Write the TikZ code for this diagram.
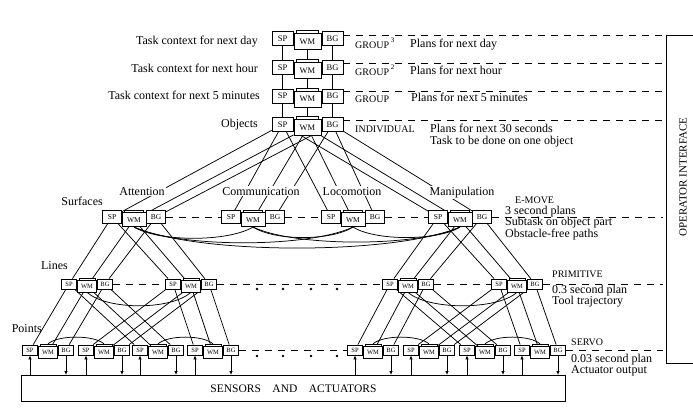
\documentclass[tikz,border=0pt]{standalone}
\usepackage{fontspec}
\setmainfont{Liberation Serif}
\usetikzlibrary{arrows.meta,backgrounds,calc}

\tikzset{
  ubox/.style={draw, fill=white, inner sep=0pt, line width=0.75pt},
  conn/.style={line width=0.75pt},
  lvl/.style={dash pattern=on 7pt off 6pt, line width=0.9pt},
  lbl/.style={font=\fontsize{12}{12}\selectfont, inner sep=0pt},
  capslbl/.style={font=\fontsize{10}{11}\selectfont, inner sep=0pt},
  tag/.style={font=\fontsize{12}{12}\selectfont, fill=white, inner sep=1pt},
  arr/.style={-{Latex[length=4pt,width=3.5pt]}, line width=0.75pt},
}

\newcommand\rcsunit[5]{%
  \node[ubox, minimum width={21pt*#4}, minimum height={14pt*#4}, font=\fontsize{#5}{#5}\selectfont] (#1sp) at ({#2-25*#4},#3) {SP};
  \node[ubox, minimum width={21pt*#4}, minimum height={14pt*#4}, font=\fontsize{#5}{#5}\selectfont] (#1bg) at ({#2+25*#4},#3) {BG};
  \node[ubox, minimum width={22pt*#4}, minimum height={10pt*#4}] (#1tab) at (#2,{#3-3*#4}) {};
  \node[ubox, minimum width={27pt*#4}, minimum height={16pt*#4}, font=\fontsize{#5}{#5}\selectfont] (#1wm) at (#2,{#3+3*#4}) {WM};
}

\begin{document}
\begin{tikzpicture}[x=1pt, y=-1pt]
\useasboundingbox (0,0) rectangle (693,409);

% ---------- units ----------
\rcsunit{u1}{307.5}{38.5}{1}{8.5}
\rcsunit{u2}{307.5}{67.5}{1}{8.5}
\rcsunit{u3}{307.5}{96}{1}{8.5}
\rcsunit{u4}{307.5}{124.5}{1}{8.5}

\rcsunit{att}{134}{217}{0.88}{7.5}
\rcsunit{com}{253}{217}{0.88}{7.5}
\rcsunit{loc}{353}{217}{0.88}{7.5}
\rcsunit{man}{460}{217}{0.88}{7.5}

\rcsunit{la}{87}{284}{0.72}{6.5}
\rcsunit{lb}{191}{284}{0.72}{6.5}
\rcsunit{lc}{408}{284}{0.72}{6.5}
\rcsunit{ld}{517}{284}{0.72}{6.5}

\rcsunit{sa}{48}{350}{0.72}{6.5}
\rcsunit{sb}{104}{350}{0.72}{6.5}
\rcsunit{sc}{158}{350}{0.72}{6.5}
\rcsunit{sd}{213}{350}{0.72}{6.5}
\rcsunit{se}{373}{350}{0.72}{6.5}
\rcsunit{sf}{429}{350}{0.72}{6.5}
\rcsunit{sg}{485}{350}{0.72}{6.5}
\rcsunit{sh}{540}{350}{0.72}{6.5}

% sensors box
\node[draw, line width=0.9pt, minimum width=544pt, minimum height=26pt, inner sep=0pt,
      anchor=north west, font=\fontsize{11.5}{12}\selectfont] (sens) at (21,375)
      {SENSORS\quad AND\quad ACTUATORS};

% right-hand level end points
\coordinate (r1) at (663,35);
\coordinate (r2) at (663,63);
\coordinate (r3) at (663,91);
\coordinate (r4) at (663,120);
\coordinate (r5) at (663,217);
\coordinate (r6) at (663,284);
\coordinate (r7) at (663,350);

\begin{scope}[on background layer]
  % hierarchy connectors
  \foreach \pa/\chd in {u1/u2,u2/u3,u3/u4,u4/att,u4/com,u4/loc,u4/man,
                        att/la,att/lb,man/lc,man/ld,
                        la/sa,la/sc,lb/sb,lb/sd,lc/se,lc/sg,ld/sf,ld/sh}
    \foreach \kk in {sp,wm,bg}
      \draw[conn] (\pa\kk) -- (\chd\kk);

  % world-model links at E-MOVE level
  \draw[conn] (attwm.south) .. controls +(25,15) and +(-25,15) .. (comwm.south);
  \draw[conn] (attwm.south) .. controls +(45,21) and +(-45,21) .. (locwm.south);
  \draw[conn] (attwm.south) .. controls +(65,28) and +(-65,28) .. (manwm.south);
  \draw[conn] (comwm.south) .. controls +(22,14) and +(-22,14) .. (locwm.south);
  \draw[conn] (comwm.south) .. controls +(42,20) and +(-42,20) .. (manwm.south);
  \draw[conn] (locwm.south) .. controls +(22,14) and +(-22,14) .. (manwm.south);

  % primitive level links
  \draw[conn] (lawm.south) .. controls +(20,18) and +(-20,18) .. (lbwm.south);
  \draw[conn] (lcwm.south) .. controls +(20,18) and +(-20,18) .. (ldwm.south);

  % servo level links
  \foreach \aa/\bb in {sa/sb,sc/sd,se/sf,sg/sh}
    \draw[conn] (\aa tab.north) .. controls +(10,-9) and +(-10,-9) .. (\bb tab.north);

  % level separators
  \draw[lvl] (u1bg.east |- r1) -- (r1);
  \draw[lvl] (u2bg.east |- r2) -- (r2);
  \draw[lvl] (u3bg.east |- r3) -- (r3);
  \draw[lvl] (u4bg.east |- r4) -- (r4);
  \draw[lvl] (attbg) -- (comsp);
  \draw[lvl] (combg) -- (locsp);
  \draw[lvl] (locbg) -- (mansp);
  \draw[lvl] (manbg.east) -- (r5);
  \draw[lvl] (labg) -- (lbsp);
  \draw[lvl] (lbbg) -- (lcsp);
  \draw[lvl] (lcbg) -- (ldsp);
  \draw[lvl] (ldbg.east) -- (r6);
  \draw[lvl] (sdbg) -- (sesp);
  \draw[lvl] (shbg.east) -- (r7);
\end{scope}

% dots
\foreach \x in {257,283,311,337} {
  \fill (\x,289) circle[radius=1.4pt];
  \fill (\x,356) circle[radius=1.4pt];
}

% servo <-> sensors arrows
\foreach \uu in {sa,sb,sc,sd,se,sf,sg,sh} {
  \draw[arr] (\uu sp.south |- sens.north) -- (\uu sp.south);
  \draw[arr] (\uu bg.south) -- (\uu bg.south |- sens.north);
}

% operator interface
\draw[line width=0.9pt] (694,35) -- (666,35) -- (666,363) -- (694,363);
\node[rotate=90, font=\fontsize{11}{12}\selectfont] (opi) at (683,177) {OPERATOR INTERFACE};

% left labels
\node[lbl, anchor=base east] (t1) at (258,45) {Task context for next day};
\node[lbl, anchor=base east] (t2) at (258,73) {Task context for next hour};
\node[lbl, anchor=base east] (t3) at (260,100) {Task context for next 5 minutes};
\node[lbl, anchor=base east] (t4) at (258,128) {Objects};
\node[lbl, anchor=base east] (ts) at (103,205) {Surfaces};
\node[lbl, anchor=base east] (tl) at (68,269) {Lines};
\node[lbl, anchor=base east] (tp) at (42,332) {Points};

% branch labels
\node[tag, anchor=base] (ta) at (142,195) {Attention};
\node[tag, anchor=base] (tc) at (261,195) {Communication};
\node[tag, anchor=base] (tlo) at (352,195) {Locomotion};
\node[tag, anchor=base] (tm) at (462,195) {Manipulation};

% right labels
\node[capslbl, anchor=base west] (g1) at (355,48.5) {GROUP\,\raisebox{6pt}{\fontsize{7}{7}\selectfont 3}};
\node[lbl, anchor=base west] (p1) at (410,48) {Plans for next day};
\node[capslbl, anchor=base west] (g2) at (355,75.5) {GROUP\,\raisebox{6pt}{\fontsize{7}{7}\selectfont 2}};
\node[lbl, anchor=base west] (p2) at (410,75) {Plans for next hour};
\node[capslbl, anchor=base west] (g3) at (355,102.5) {GROUP};
\node[lbl, anchor=base west] (p3) at (411,102) {Plans for next 5 minutes};
\node[capslbl, anchor=base west] (g4) at (355,132) {INDIVIDUAL};
\node[lbl, anchor=base west] (p4) at (430,132) {Plans for next 30 seconds};
\node[lbl, anchor=base west] (p5) at (430,145) {Task to be done on one object};

\node[capslbl, anchor=base west] (em) at (515,203) {E-MOVE};
\node[lbl, anchor=base west] (e1) at (505,214) {3 second plans};
\node[lbl, anchor=base west] (e2) at (505,225.5) {Subtask on object part};
\node[lbl, anchor=base west] (e3) at (505,237) {Obstacle-free paths};

\node[capslbl, anchor=base west] (pr) at (552,277) {PRIMITIVE};
\node[lbl, anchor=base west] (pr1) at (552,293) {0.3 second plan};
\node[lbl, anchor=base west] (pr2) at (552,304) {Tool trajectory};

\node[capslbl, anchor=base west] (sv) at (571,345) {SERVO};
\node[lbl, anchor=base west] (sv1) at (571,362) {0.03 second plan};
\node[lbl, anchor=base west] (sv2) at (571,373) {Actuator output};
\end{tikzpicture}
\end{document}
